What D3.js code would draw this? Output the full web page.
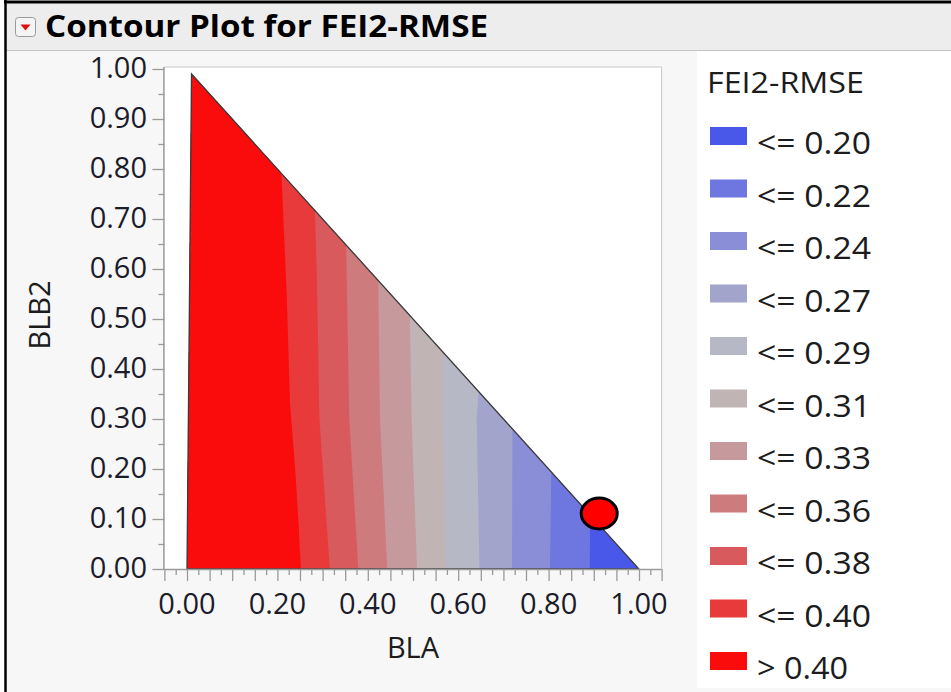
<!DOCTYPE html>
<html><head><meta charset="utf-8">
<script src="https://cdn.jsdelivr.net/npm/d3@7"></script>
<style>body{margin:0;background:#fff}svg{display:block}</style>
</head><body>
<svg id="c" width="951" height="692"></svg>
<script>
// ---------------- data ----------------
const legendTitle = "FEI2-RMSE";
const legendLabels = ["<= 0.20","<= 0.22","<= 0.24","<= 0.27","<= 0.29","<= 0.31","<= 0.33","<= 0.36","<= 0.38","<= 0.40","> 0.40"];
const bandColors = ["#4a58ea","#6e76e0","#8a8ed6","#a2a4cc","#b7b8c6","#c1b4b5","#c69a9c","#cd7b7d","#d95a5c","#e83a3a","#fb0c0c"];
// contour boundaries [BLA, BLB2]; boundaries[k] separates band k (right) from band k+1 (left)
const boundaries = [
  [[0.891,0],[0.892,0.108]],
  [[0.803,0],[0.806,0.194]],
  [[0.719,0],[0.720,0.280]],
  [[0.647,0],[0.641,0.300],[0.645,0.355]],
  [[0.573,0],[0.567,0.300],[0.567,0.433]],
  [[0.509,0],[0.497,0.300],[0.493,0.507]],
  [[0.443,0],[0.427,0.300],[0.423,0.577]],
  [[0.379,0],[0.359,0.300],[0.353,0.600],[0.352,0.648]],
  [[0.316,0],[0.293,0.300],[0.287,0.600],[0.283,0.717]],
  [[0.252,0],[0.246,0.105],[0.239,0.205],[0.228,0.330],[0.221,0.540],[0.209,0.791]]
];
const triangle = [[0,0],[0.01,0.99],[1,0]];
const marker = [0.912, 0.111];
const xTicks = [0,0.2,0.4,0.6,0.8,1.0];
const yTicks = [0,0.1,0.2,0.3,0.4,0.5,0.6,0.7,0.8,0.9,1.0];
const xLabel = "BLA", yLabel = "BLB2";
const title = "Contour Plot for FEI2-RMSE";

// ---------------- drawing ----------------
const svg = d3.select("#c");
const FONT = "'Open Sans', 'Noto Sans', sans-serif";

// outer frame
svg.append("rect").attr("x",0).attr("y",0).attr("width",951).attr("height",692).attr("fill","#fff");
svg.append("rect").attr("x",6).attr("y",3).attr("width",945).attr("height",689).attr("fill","#f7f7f7");
// title bar
svg.append("rect").attr("x",6).attr("y",3).attr("width",945).attr("height",47).attr("fill","#ededed");
svg.append("line").attr("x1",6).attr("x2",951).attr("y1",50.5).attr("y2",50.5).attr("stroke","#c4c4c4").attr("stroke-width",1);
svg.append("line").attr("x1",4).attr("x2",951).attr("y1",2).attr("y2",2).attr("stroke","#000").attr("stroke-width",3);
svg.append("line").attr("x1",5.5).attr("x2",5.5).attr("y1",0).attr("y2",692).attr("stroke","#000").attr("stroke-width",2.5);
// disclosure icon
svg.append("rect").attr("x",15.5).attr("y",17.5).attr("width",20).attr("height",19).attr("rx",3)
  .attr("fill","#f4f4f4").attr("stroke","#9a9a9a").attr("stroke-width",1);
svg.append("path").attr("d","M20.5,24.5 L30.5,24.5 L25.5,30.5 Z").attr("fill","#e01010");
svg.append("text").attr("x",45).attr("y",37).attr("font-family",FONT).attr("font-weight","bold")
  .attr("font-size",30).attr("fill","#000").attr("textLength",443).attr("lengthAdjust","spacingAndGlyphs").text(title);

// legend panel
svg.append("rect").attr("x",697).attr("y",51).attr("width",254).attr("height",637).attr("fill","#fff");

// scales
const x = d3.scaleLinear().domain([-0.05,1.05]).range([164.4,661.6]);
const y = d3.scaleLinear().domain([0,1.004]).range([569,67]);

// plot area
svg.append("rect").attr("x",x(-0.05)).attr("y",y(1.004)).attr("width",x(1.05)-x(-0.05)).attr("height",y(0)-y(1.004)).attr("fill","#fff");
svg.append("path").attr("d",`M${x(-0.05)},${y(1.004)}H${x(1.05)}V${y(0)}`).attr("fill","none").attr("stroke","#c8c8c8");

const line = d3.line().x(d=>x(d[0])).y(d=>y(d[1]));
svg.append("clipPath").attr("id","tri").append("path").attr("d",line(triangle)+"Z");
const g = svg.append("g").attr("clip-path","url(#tri)");
g.append("path").attr("d",line(triangle)+"Z").attr("fill",bandColors[0]);
boundaries.forEach((b,k)=>{
  const first=b[0], last=b[b.length-1];
  const poly=[[first[0],-0.1],...b,[last[0],1.2],[-0.2,1.2],[-0.2,-0.1]];
  g.append("path").attr("d",line(poly)+"Z").attr("fill",bandColors[k+1]);
});
svg.append("path").attr("d",line(triangle)+"Z").attr("fill","none").attr("stroke","#3a3a3a").attr("stroke-width",1.3);

// axes
const tickCol="#9a9a9a";
const xAxis = d3.axisBottom(x).tickValues(d3.range(-0.05,1.0501,0.025)).tickSize(5).tickFormat("");
const gx = svg.append("g").attr("transform",`translate(0,${y(0)})`).call(xAxis);
gx.select(".domain").attr("stroke",tickCol).attr("stroke-width",1.5).attr("d",`M${x(-0.05)},0.5H${x(1.05)}`);
gx.selectAll(".tick line").attr("stroke",tickCol).attr("stroke-width",1.3)
  .attr("y2",(d)=> (Math.abs(Math.round(d/0.05)*0.05-d)<1e-6)?12:6);
svg.append("g").selectAll("text").data(xTicks).join("text")
  .attr("x",d=>x(d)).attr("y",614).attr("text-anchor","middle").attr("font-family",FONT).attr("font-size",29).attr("fill","#1c1c2a")
  .text(d=>d3.format(".2f")(d));

const yAxis = d3.axisLeft(y).tickValues(d3.range(0,1.0001,0.05)).tickSize(5).tickFormat("");
const gy = svg.append("g").attr("transform",`translate(${x(-0.05)},0)`).call(yAxis);
gy.select(".domain").attr("stroke",tickCol).attr("stroke-width",1.5).attr("d",`M-0.5,${y(1.004)}V${y(0)}`);
gy.selectAll(".tick line").attr("stroke",tickCol).attr("stroke-width",1.3)
  .attr("x2",(d)=> (Math.abs(Math.round(d*10)/10-d)<1e-6)?-12:-6);
svg.append("g").selectAll("text").data(yTicks).join("text")
  .attr("x",147).attr("y",d=>y(d)+9).attr("text-anchor","end").attr("font-family",FONT).attr("font-size",29).attr("fill","#1c1c2a")
  .text(d=>d3.format(".2f")(d));

svg.append("text").attr("x",(x(-0.05)+x(1.05))/2).attr("y",658).attr("text-anchor","middle")
  .attr("font-family",FONT).attr("font-size",29).attr("fill","#1c1c1c").text(xLabel);
svg.append("text").attr("transform",`translate(50,${(y(0)+y(1.004))/2-3}) rotate(-90)`).attr("text-anchor","middle")
  .attr("font-family",FONT).attr("font-size",29).attr("fill","#1c1c1c").text(yLabel);

// marker
svg.append("ellipse").attr("cx",x(marker[0])).attr("cy",y(marker[1])).attr("rx",18).attr("ry",15.5)
  .attr("fill","#ff0000").attr("stroke","#000").attr("stroke-width",3);

// legend
svg.append("text").attr("x",707).attr("y",93).attr("font-family",FONT).attr("font-size",30).attr("fill","#1c1c1c")
  .attr("textLength",157).attr("lengthAdjust","spacingAndGlyphs").text(legendTitle);
const lg = svg.append("g").selectAll("g").data(legendLabels).join("g")
  .attr("transform",(d,i)=>`translate(0,${127+52.5*i})`);
lg.append("rect").attr("x",710).attr("y",0).attr("width",37).attr("height",18).attr("fill",(d,i)=>bandColors[i]);
lg.append("text").attr("x",757).attr("y",27).attr("font-family",FONT).attr("font-size",31).attr("fill","#1c1c1c")
  .attr("textLength",(d)=> d.startsWith(">")?91:114).attr("lengthAdjust","spacingAndGlyphs").text(d=>d);
</script>
</body></html>
